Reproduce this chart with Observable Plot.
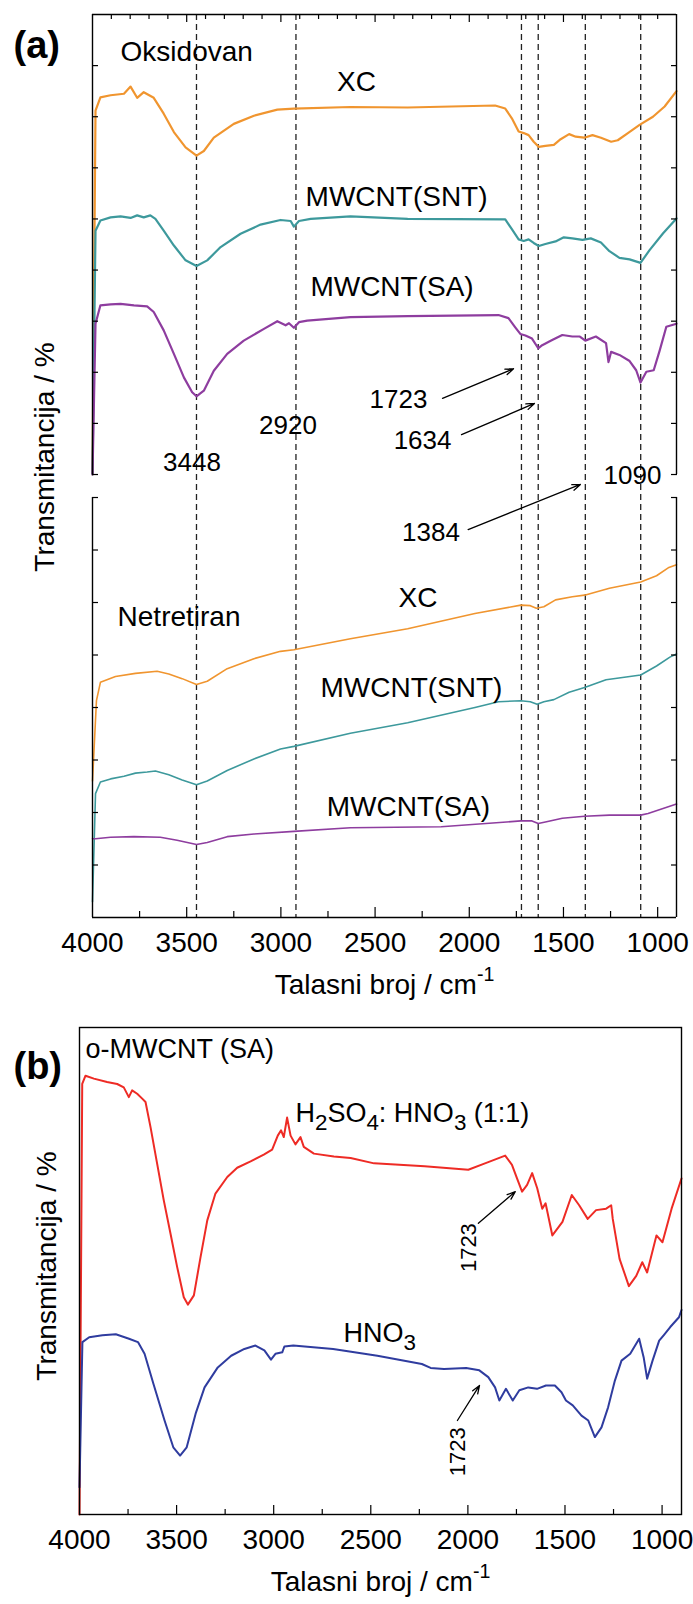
<!DOCTYPE html>
<html><head><meta charset="utf-8">
<script src="https://cdn.jsdelivr.net/npm/d3@7"></script>
<script src="https://cdn.jsdelivr.net/npm/@observablehq/plot@0.6"></script>
<style>
body{margin:0;background:#fff;}
#wrap{width:693px;}
svg{display:block;}
</style></head><body><div id="wrap"></div>
<script>
// ---------- DATA: panel (a), upper section "Oksidovan" [wavenumber, transmittance (a.u.)] ----------
const oxXC = [[4000,9.0],[3984,16.12],[3958,16.38],[3904,16.42],[3833,16.45],[3798,16.59],[3763,16.37],[3728,16.48],[3675,16.37],[3622,16.06],[3568,15.70],[3506,15.40],[3448,15.24],[3409,15.33],[3356,15.59],[3250,15.86],[3143,16.02],[3019,16.14],[2931,16.16],[2631,16.19],[2327,16.18],[1863,16.22],[1809,16.16],[1774,15.97],[1738,15.71],[1711,15.68],[1685,15.64],[1658,15.51],[1631,15.41],[1596,15.43],[1551,15.45],[1515,15.56],[1470,15.66],[1435,15.61],[1390,15.59],[1346,15.64],[1301,15.59],[1247,15.51],[1212,15.54],[1158,15.68],[1096,15.84],[1025,16.00],[963,16.20],[900,16.50]];
const oxSNT = [[4000,9.0],[3984,13.77],[3958,13.97],[3904,14.03],[3851,14.05],[3798,14.02],[3763,14.07],[3728,14.03],[3693,14.07],[3666,14.00],[3622,13.77],[3568,13.48],[3506,13.19],[3448,13.08],[3391,13.19],[3320,13.45],[3214,13.71],[3108,13.89],[3002,13.98],[2948,13.96],[2931,13.85],[2904,13.96],[2842,14.00],[2631,14.05],[2327,14.00],[1809,13.99],[1774,13.80],[1738,13.60],[1711,13.57],[1685,13.60],[1658,13.53],[1631,13.47],[1596,13.51],[1542,13.56],[1498,13.64],[1453,13.62],[1399,13.59],[1355,13.62],[1301,13.54],[1256,13.37],[1203,13.24],[1149,13.21],[1091,13.14],[1043,13.39],[971,13.72],[900,14.01]];
const oxSA = [[4000,9.0],[3984,11.95],[3958,12.31],[3904,12.33],[3851,12.34],[3780,12.31],[3710,12.29],[3675,12.18],[3622,11.82],[3568,11.36],[3515,10.90],[3471,10.61],[3448,10.53],[3409,10.64],[3356,11.03],[3285,11.36],[3197,11.62],[3090,11.85],[3019,12.00],[2975,11.92],[2957,11.96],[2931,11.87],[2904,11.98],[2860,12.01],[2631,12.08],[2327,12.10],[1845,12.12],[1792,12.06],[1756,11.88],[1729,11.75],[1702,11.72],[1667,11.66],[1634,11.47],[1613,11.53],[1560,11.63],[1506,11.73],[1453,11.70],[1413,11.70],[1384,11.62],[1328,11.70],[1274,11.57],[1261,11.20],[1247,11.40],[1203,11.34],[1149,11.22],[1114,11.04],[1091,10.80],[1060,11.01],[1021,11.04],[989,11.43],[954,11.89],[900,11.95]];
// ---------- panel (a), lower section "Netretiran" ----------
const unXC = [[4000,2.6],[3979,4.13],[3958,4.48],[3878,4.59],[3772,4.65],[3657,4.69],[3595,4.64],[3524,4.55],[3448,4.44],[3391,4.50],[3285,4.74],[3143,4.93],[3002,5.07],[2931,5.10],[2631,5.31],[2327,5.50],[1970,5.79],[1726,5.95],[1676,5.94],[1644,5.89],[1604,5.92],[1542,6.05],[1453,6.11],[1388,6.14],[1256,6.27],[1090,6.39],[1006,6.51],[944,6.66],[900,6.72]];
const unSNT = [[4000,0.3],[3984,2.36],[3958,2.58],[3904,2.64],[3833,2.69],[3772,2.75],[3710,2.77],[3666,2.79],[3595,2.72],[3524,2.62],[3448,2.53],[3391,2.60],[3285,2.80],[3143,3.02],[3002,3.21],[2931,3.26],[2631,3.51],[2327,3.71],[1970,4.00],[1845,4.11],[1726,4.13],[1676,4.11],[1640,4.06],[1604,4.11],[1551,4.15],[1470,4.29],[1388,4.38],[1274,4.53],[1167,4.58],[1090,4.62],[1006,4.79],[935,4.96],[900,5.02]];
const unSA = [[4000,1.5],[3984,1.50],[3904,1.53],[3780,1.54],[3640,1.53],[3551,1.47],[3448,1.39],[3391,1.43],[3285,1.54],[3143,1.59],[2931,1.64],[2631,1.71],[2149,1.73],[1726,1.84],[1667,1.84],[1634,1.79],[1596,1.82],[1506,1.89],[1388,1.93],[1256,1.95],[1090,1.95],[1051,1.98],[900,2.16]];
// ---------- panel (b) ----------
const mixAcid = [[4000,0],[3986,88.4],[3969,90.1],[3926,89.5],[3858,88.8],[3806,88.4],[3772,87.7],[3746,85.7],[3729,87.1],[3703,86.4],[3677,85.4],[3660,84.7],[3634,79.5],[3600,72.0],[3566,64.5],[3531,57.6],[3497,50.8],[3463,44.6],[3442,43.1],[3411,45.0],[3377,52.8],[3342,60.4],[3300,65.9],[3239,69.3],[3188,71.2],[3119,72.5],[3051,73.9],[3008,74.9],[2979,77.8],[2962,78.9],[2948,77.5],[2931,81.5],[2913,77.8],[2888,76.0],[2862,77.5],[2845,75.5],[2793,74.1],[2690,73.5],[2604,73.2],[2483,72.1],[2223,71.5],[1998,70.8],[1912,72.1],[1808,73.7],[1773,71.8],[1747,69.0],[1721,66.3],[1695,67.7],[1669,70.1],[1643,67.0],[1617,62.8],[1600,63.9],[1565,57.3],[1513,60.1],[1465,65.6],[1427,63.5],[1383,60.7],[1340,62.5],[1288,62.8],[1262,63.5],[1254,60.7],[1219,52.5],[1171,46.9],[1133,49.0],[1102,51.8],[1077,49.7],[1029,57.3],[998,55.9],[951,62.8],[900,69.0]];
const nitric = [[4000,5.6],[3985,35.4],[3950,36.4],[3882,36.8],[3813,37.0],[3745,36.1],[3699,35.4],[3665,33.0],[3619,26.8],[3562,19.3],[3517,13.8],[3482,12.1],[3448,13.8],[3402,20.7],[3356,26.1],[3288,30.2],[3219,32.6],[3151,34.0],[3094,34.7],[3048,33.7],[3014,31.8],[2991,33.0],[2956,33.3],[2945,34.5],[2899,34.7],[2694,34.0],[2466,32.6],[2237,30.9],[2192,30.1],[2123,29.9],[2009,30.1],[1941,29.6],[1895,28.2],[1860,26.1],[1838,23.4],[1804,25.8],[1769,23.4],[1735,25.5],[1689,26.1],[1644,25.8],[1598,26.5],[1552,26.5],[1518,25.1],[1495,23.4],[1460,22.4],[1415,20.3],[1380,19.3],[1346,15.9],[1312,17.9],[1278,22.0],[1243,27.5],[1209,31.6],[1164,33.0],[1118,36.1],[1095,32.3],[1077,27.9],[1049,31.6],[1015,35.7],[992,36.8],[958,38.5],[913,40.5],[900,42.0]];

// ---------- reference lines, ticks ----------
const bandLines = [3448, 2920, 1723, 1634, 1384, 1090];
const xTickLabels = [4000, 3500, 3000, 2500, 2000, 1500, 1000];
const xMajorTicks = [3500, 3000, 2500, 2000, 1500, 1000];
const xMinorTicks = [3750, 3250, 2750, 2250, 1750, 1250];
const topTicks100 = [3900,3800,3700,3600,3400,3300,3200,3100,2900,2800,2700,2600,2400,2300,2200,2100,1900,1800,1700,1600,1400,1300,1200,1100,1000];
const topTicks500 = [3500, 3000, 2500, 2000, 1500];
const yTicksLower = [1, 2, 3, 4, 5, 6, 7, 8];
const yTicksUpper = [9, 10, 11, 12, 13, 14, 15, 16, 17];

// ---------- annotations (data coordinates) ----------
const seriesLabelsA = [
  {text: "XC", wn: 2599, t: 16.67},
  {text: "MWCNT(SNT)", wn: 2386, t: 14.42},
  {text: "MWCNT(SA)", wn: 2410, t: 12.66},
  {text: "XC", wn: 2272, t: 6.08},
  {text: "MWCNT(SNT)", wn: 2307, t: 4.38},
  {text: "MWCNT(SA)", wn: 2323, t: 2.11}
];
const groupLabelsA = [
  {text: "Oksidovan", wn: 3851, t: 17.26},
  {text: "Netretiran", wn: 3867, t: 5.73}
];
const bandLabelsA = [
  {text: "3448", wn: 3472, t: 9.23},
  {text: "2920", wn: 2962, t: 9.96},
  {text: "1723", wn: 2376, t: 10.47},
  {text: "1634", wn: 2248, t: 9.67},
  {text: "1090", wn: 1134, t: 8.96},
  {text: "1384", wn: 2203, t: 7.33}
];
const arrowsA = [
  {x1: 2142, y1: 10.49, x2: 1765, y2: 11.07},
  {x1: 2041, y1: 9.78, x2: 1654, y2: 10.39},
  {x1: 2006, y1: 7.39, x2: 1410, y2: 8.57}
];
const labelsB = [
  {text: "o-MWCNT (SA)", wn: 3969, t: 95.6},
  {text: "H_{2}SO_{4}: HNO_{3} (1:1)", wn: 2888, t: 82.3},
  {text: "HNO_{3}", wn: 2640, t: 37.1}
];
const bandLabelsB = [
  {text: "1723", wn: 1994, t: 54.8},
  {text: "1723", wn: 2053, t: 12.9}
];
const arrowsB = [
  {x1: 1946, y1: 59.8, x2: 1756, y2: 66.3},
  {x1: 2054, y1: 19.3, x2: 1940, y2: 26.5}
];

// ---------- styling ----------
const FONT = "'Liberation Sans', Arial, Helvetica, sans-serif";
const C = {orange: "#f0952f", teal: "#3d999c", purple: "#8e3d9f", red: "#ee2b25", blue: "#2f3c9f"};
const fmt = d3.format("d");

// broken y axis of panel (a): lower section 0..8, upper section 9..18 (small gap between)
const brk = v => v <= 8 ? v : v <= 9 ? 8 + (v - 8) * 0.438 : 8.438 + (v - 9) * 0.9736;
const wx = d => d[0], ty = d => d[1], tyb = d => brk(d[1]);

function tickAxisX(anchor, ticks, size) {
  return Plot.axisX({anchor, ticks, tickSize: -size, tickFormat: () => "", label: null, strokeWidth: 1.2});
}
function tickAxisY(anchor, ticks, size) {
  return Plot.axisY({anchor, ticks, tickSize: -size, tickFormat: () => "", label: null, strokeWidth: 1.2});
}

const plotA = Plot.plot({
  width: 693, height: 1020,
  marginTop: 14, marginBottom: 103, marginLeft: 92, marginRight: 17,
  style: {fontFamily: FONT, background: "white", color: "black"},
  x: {domain: [4000, 900], axis: null},
  y: {domain: [0, brk(18)], axis: null},
  marks: [
    Plot.ruleX(bandLines, {stroke: "#222", strokeWidth: 1.3, strokeDasharray: "6,4"}),
    Plot.line(oxXC, {x: wx, y: tyb, stroke: C.orange, strokeWidth: 2.2}),
    Plot.line(oxSNT, {x: wx, y: tyb, stroke: C.teal, strokeWidth: 2.2}),
    Plot.line(oxSA, {x: wx, y: tyb, stroke: C.purple, strokeWidth: 2.2}),
    Plot.line(unXC, {x: wx, y: tyb, stroke: C.orange, strokeWidth: 1.6}),
    Plot.line(unSNT, {x: wx, y: tyb, stroke: C.teal, strokeWidth: 1.6}),
    Plot.line(unSA, {x: wx, y: tyb, stroke: C.purple, strokeWidth: 1.6}),
    // broken frame
    Plot.ruleY([0, 18], {y: brk, stroke: "black", strokeWidth: 1.4}),
    Plot.ruleX([4000, 900], {x: d => d, y1: brk(0), y2: brk(8), stroke: "black", strokeWidth: 1.4}),
    Plot.ruleX([4000, 900], {x: d => d, y1: brk(9), y2: brk(18), stroke: "black", strokeWidth: 1.4}),
    tickAxisX("bottom", xMajorTicks, 10),
    tickAxisX("bottom", xMinorTicks, 6),
    tickAxisX("top", topTicks100, 4),
    tickAxisX("top", topTicks500, 7),
    tickAxisY("left", yTicksLower.map(brk), 6),
    tickAxisY("left", yTicksUpper.map(brk), 6),
    tickAxisY("right", yTicksLower.map(brk), 6),
    tickAxisY("right", yTicksUpper.map(brk), 6),
    Plot.axisX({anchor: "bottom", ticks: xTickLabels, tickSize: 0, tickPadding: 15, tickFormat: fmt, fontSize: 28, label: null}),
    Plot.text(["Talasni broj / cm^{-1}"], {frameAnchor: "bottom", dy: 76, fontSize: 28}),
    Plot.text(["Transmitancija / %"], {frameAnchor: "left", textAnchor: "middle", rotate: -90, dx: -47, dy: -9, fontSize: 28}),
    Plot.text(["(a)"], {frameAnchor: "top-left", dx: -79, dy: 17, textAnchor: "start", fontSize: 38, fontWeight: "bold"}),
    Plot.text(groupLabelsA, {x: "wn", y: d => brk(d.t), text: "text", textAnchor: "start", fontSize: 28, letterSpacing: 2}),
    Plot.text(seriesLabelsA, {x: "wn", y: d => brk(d.t), text: "text", fontSize: 28, letterSpacing: 0.4}),
    Plot.text(bandLabelsA, {x: "wn", y: d => brk(d.t), text: "text", fontSize: 26}),
    Plot.arrow(arrowsA, {x1: "x1", y1: d => brk(d.y1), x2: "x2", y2: d => brk(d.y2), stroke: "black", strokeWidth: 1.3, headLength: 10, headAngle: 40})
  ]
});

const plotB = Plot.plot({
  width: 693, height: 584,
  marginTop: 7, marginBottom: 90, marginLeft: 79, marginRight: 12,
  style: {fontFamily: FONT, background: "white", color: "black"},
  x: {domain: [4000, 900], axis: null},
  y: {domain: [0, 100], axis: null},
  marks: [
    Plot.line(mixAcid, {x: wx, y: ty, stroke: C.red, strokeWidth: 2}),
    Plot.line(nitric, {x: wx, y: ty, stroke: C.blue, strokeWidth: 2}),
    Plot.frame({stroke: "black", strokeWidth: 1.4}),
    tickAxisX("bottom", xMajorTicks, 9),
    tickAxisX("bottom", xMinorTicks, 5),
    Plot.axisX({anchor: "bottom", ticks: xTickLabels, tickSize: 0, tickPadding: 15, tickFormat: fmt, fontSize: 28, label: null}),
    Plot.text(["Talasni broj / cm^{-1}"], {frameAnchor: "bottom", dy: 76, fontSize: 28}),
    Plot.text(["Transmitancija / %"], {frameAnchor: "left", textAnchor: "middle", rotate: -90, dx: -32, dy: -5, fontSize: 28}),
    Plot.text(["(b)"], {frameAnchor: "top-left", dx: -66, dy: 25, textAnchor: "start", fontSize: 38, fontWeight: "bold"}),
    Plot.text(labelsB, {x: "wn", y: "t", text: "text", textAnchor: "start", fontSize: 27}),
    Plot.text(bandLabelsB, {x: "wn", y: "t", text: "text", rotate: -90, fontSize: 22}),
    Plot.arrow(arrowsB, {x1: "x1", y1: "y1", x2: "x2", y2: "y2", stroke: "black", strokeWidth: 1.3, headLength: 10, headAngle: 40})
  ]
});

// sub/superscript markup: _{..} and ^{..}
function richText(svg) {
  d3.select(svg).selectAll("text").each(function () {
    const el = this;
    if (el.querySelector("tspan")) return;
    const s = el.textContent;
    if (!/[_^]\{/.test(s)) return;
    const fs = parseFloat(el.getAttribute("font-size") || getComputedStyle(el).fontSize) || 28;
    const parts = s.split(/([_^]\{[^}]*\})/).filter(p => p.length);
    el.textContent = "";
    let shift = 0;
    for (const p of parts) {
      const t = document.createElementNS("http://www.w3.org/2000/svg", "tspan");
      let target = 0, size = null, txt = p;
      if (p[0] === "_" && p[1] === "{") { target = fs * 0.28; size = fs * 0.8; txt = p.slice(2, -1); }
      else if (p[0] === "^" && p[1] === "{") { target = -fs * 0.45; size = fs * 0.7; txt = p.slice(2, -1); }
      t.setAttribute("dy", String(target - shift));
      shift = target;
      if (size) t.setAttribute("font-size", size);
      t.textContent = txt;
      el.appendChild(t);
    }
  });
}
richText(plotA); richText(plotB);
const wrap = document.getElementById("wrap");
wrap.appendChild(plotA);
wrap.appendChild(plotB);
</script></body></html>
